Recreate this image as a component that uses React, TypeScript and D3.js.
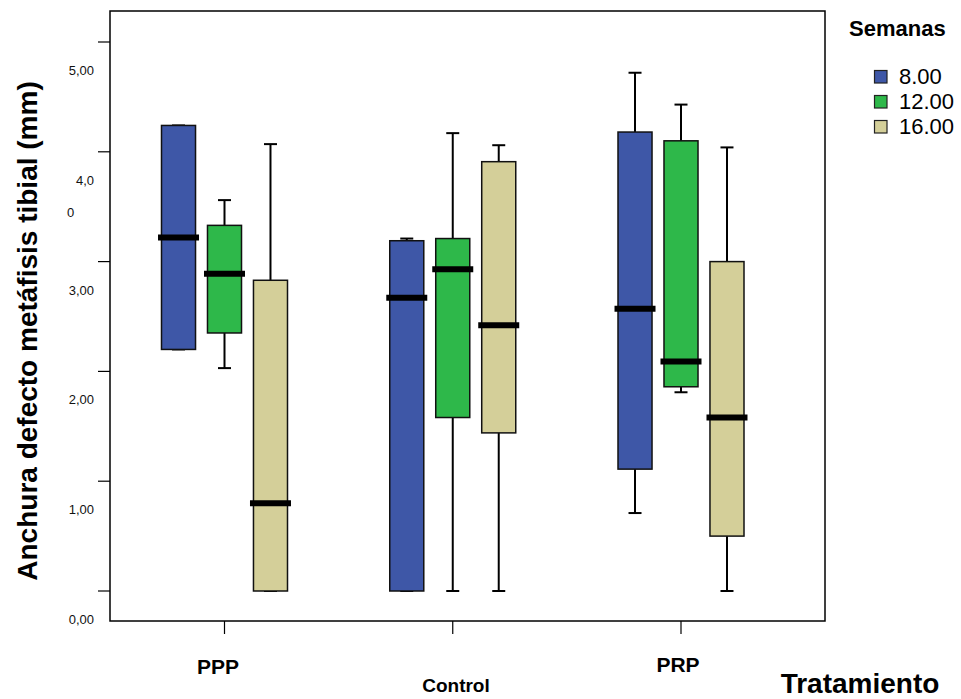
import React from "react";
import * as d3 from "d3";

const groups = ["PPP", "Control", "PRP"];
const series = ["8.00", "12.00", "16.00"];
const colors = ["#3E57A7", "#2EB84A", "#D4CF99"];
// [min, q1, median, q3, max] per group, per series
const stats8 = [
  [2.2, 2.2, 3.22, 4.24, 4.24],
  [0.0, 0.0, 2.67, 3.19, 3.21],
  [0.71, 1.11, 2.57, 4.18, 4.72],
];
const stats12 = [
  [2.03, 2.35, 2.89, 3.33, 3.56],
  [0.0, 1.58, 2.93, 3.21, 4.17],
  [1.81, 1.86, 2.09, 4.1, 4.43],
];
const stats16 = [
  [0.0, 0.0, 0.8, 2.83, 4.07],
  [0.0, 1.44, 2.42, 3.91, 4.06],
  [0.0, 0.5, 1.58, 3.0, 4.04],
];
const yTicks = [0, 1, 2, 3, 4, 5];
const yTickLabels = ["0,00", "1,00", "2,00", "3,00", "4,0\n0", "5,00"];

export default function App() {
  const W = 961, H = 699;
  const left = 110, right = 825, top = 11, bottom = 621;
  const y = d3.scaleLinear().domain([0, 5]).range([591, 42]);
  const x = d3.scalePoint().domain(groups).range([224.5, 681]);
  const xs = d3.scaleBand().domain(series).range([-63, 63]).paddingInner(0.26).paddingOuter(0);
  const bw = xs.bandwidth();
  const allStats = [stats8, stats12, stats16];
  const font = "'Liberation Sans', Arial, sans-serif";

  return (
    <svg width={W} height={H} style={{ position: "absolute", left: 0, top: 0, background: "#fff" }}>
      <rect x={0} y={0} width={W} height={H} fill="#fff" />
      {/* frame */}
      <rect x={left} y={top} width={right - left} height={bottom - top} fill="none" stroke="#000" strokeWidth={1.5} />
      {/* y ticks */}
      {yTicks.map((t, i) => (
        <g key={t}>
          <line x1={98} x2={left} y1={y(t)} y2={y(t)} stroke="#000" strokeWidth={1.2} />
          {yTickLabels[i].split("\n").map((s, j) => (
            <text key={j} x={s.length === 1 ? 67 : 94} y={y(t) + 33 + j * 32} textAnchor={s.length === 1 ? "start" : "end"}
              fontFamily={font} fontSize={13} fill="#111">{s}</text>
          ))}
        </g>
      ))}
      {/* x ticks */}
      {groups.map((g) => (
        <line key={g} x1={x(g)!} x2={x(g)!} y1={bottom} y2={634} stroke="#000" strokeWidth={1.2} />
      ))}
      {/* boxes */}
      {groups.map((g, gi) =>
        series.map((s, si) => {
          const [mn, q1, md, q3, mx] = allStats[si][gi];
          const x0 = x(g)! + xs(s)!;
          const cx = x0 + bw / 2;
          return (
            <g key={g + s}>
              <line x1={cx} x2={cx} y1={y(mx)} y2={y(q3)} stroke="#000" strokeWidth={2} />
              <line x1={cx} x2={cx} y1={y(q1)} y2={y(mn)} stroke="#000" strokeWidth={2} />
              <line x1={cx - 6.5} x2={cx + 6.5} y1={y(mx)} y2={y(mx)} stroke="#000" strokeWidth={2} />
              <line x1={cx - 6.5} x2={cx + 6.5} y1={y(mn)} y2={y(mn)} stroke="#000" strokeWidth={2} />
              <rect x={x0} y={y(q3)} width={bw} height={Math.max(0, y(q1) - y(q3))} fill={colors[si]}
                stroke="#111" strokeWidth={1.5} />
              <line x1={cx - 20.5} x2={cx + 20.5} y1={y(md)} y2={y(md)} stroke="#000" strokeWidth={6} />
            </g>
          );
        })
      )}
      {/* x labels */}
      <text x={218} y={674} textAnchor="middle" fontFamily={font} fontWeight="bold" fontSize={21}>PPP</text>
      <text x={456} y={692} textAnchor="middle" fontFamily={font} fontWeight="bold" fontSize={19}>Control</text>
      <text x={678} y={672} textAnchor="middle" fontFamily={font} fontWeight="bold" fontSize={21}>PRP</text>
      <text x={860} y={693} textAnchor="middle" fontFamily={font} fontWeight="bold" fontSize={28}>Tratamiento</text>
      {/* y title */}
      <text transform={`translate(37,331) rotate(-90)`} textAnchor="middle" fontFamily={font} fontWeight="bold"
        fontSize={28}>Anchura defecto metáfisis tibial (mm)</text>
      {/* legend */}
      <text x={849} y={36} fontFamily={font} fontWeight="bold" fontSize={22}>Semanas</text>
      {series.map((s, i) => (
        <g key={s}>
          <rect x={874.5} y={70.5 + i * 25} width={12.5} height={12.5} fill={colors[i]} stroke="#222" strokeWidth={1.2} />
          <text x={899} y={84 + i * 25} fontFamily={font} fontSize={22}>{s}</text>
        </g>
      ))}
    </svg>
  );
}
